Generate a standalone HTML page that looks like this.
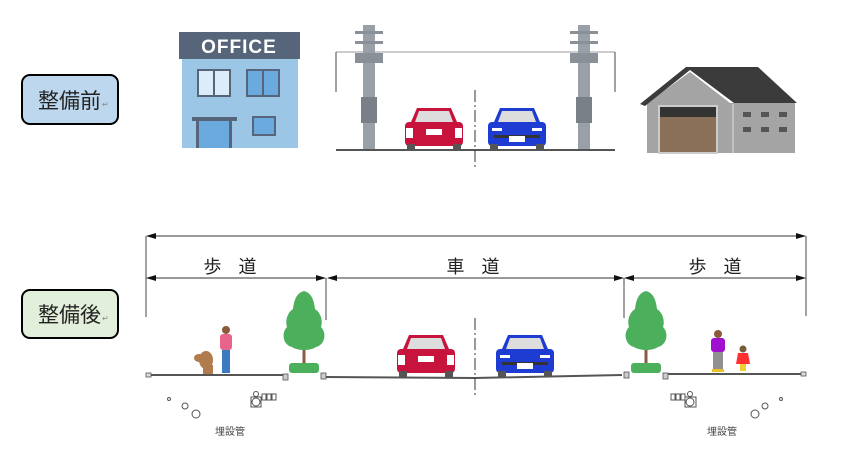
<!DOCTYPE html>
<html><head><meta charset="utf-8"><style>
html,body{margin:0;padding:0;background:#fff;}
svg{display:block;font-family:"Liberation Sans","Noto Sans CJK JP",sans-serif;}
</style></head><body>
<svg width="842" height="449" viewBox="0 0 842 449" xmlns="http://www.w3.org/2000/svg">
<defs>
<marker id="ar" markerWidth="10" markerHeight="6" refX="9" refY="3" orient="auto" markerUnits="userSpaceOnUse"><path d="M0,0 L10,3 L0,6z" fill="#111"/></marker>
<marker id="al" markerWidth="10" markerHeight="6" refX="1" refY="3" orient="auto" markerUnits="userSpaceOnUse"><path d="M10,0 L0,3 L10,6z" fill="#111"/></marker>
<g id="redcar">
<rect x="2" y="16" width="58" height="24" rx="4" fill="#c8143c"/>
<path d="M8,16 L14,2 L48,2 L54,16z" fill="#c8143c"/>
<path d="M12,16 L16,5 L46,5 L50,16z" fill="#ddd"/>
<rect x="3" y="22" width="7" height="10" fill="#fff"/><rect x="52" y="22" width="7" height="10" fill="#fff"/>
<rect x="23" y="23" width="16" height="6" fill="#fff"/>
<rect x="4" y="38" width="8" height="6" fill="#555"/><rect x="50" y="38" width="8" height="6" fill="#555"/>
</g>
<g id="bluecar">
<rect x="2" y="16" width="58" height="24" rx="4" fill="#1e3cd2"/>
<path d="M8,16 L14,2 L48,2 L54,16z" fill="#1e3cd2"/>
<path d="M12,16 L16,5 L46,5 L50,16z" fill="#ddd"/>
<rect x="6" y="22" width="10" height="3" fill="#fff"/><rect x="46" y="22" width="10" height="3" fill="#fff"/>
<rect x="8" y="29" width="46" height="3" fill="#333"/>
<rect x="23" y="30" width="16" height="6" fill="#fff"/>
<rect x="4" y="38" width="8" height="6" fill="#555"/><rect x="50" y="38" width="8" height="6" fill="#555"/>
</g>
<g id="tree">
<rect x="-1.5" y="45" width="3" height="30" fill="#8a5a44"/>
<path d="M0,0 C8,2 10,10 11,18 C17,22 19,30 17,36 C23,42 21,54 12,56 C6,60 -6,60 -12,56 C-21,54 -23,42 -17,36 C-19,30 -17,22 -11,18 C-10,10 -8,2 0,0z" fill="#4caf5c"/>
<rect x="-15" y="72" width="30" height="10" rx="3" fill="#4caf5c"/>
</g>
<g id="pole">
<rect x="-6" y="0" width="12" height="125" fill="#9aa0a8"/>
<rect x="-14" y="6" width="28" height="3" fill="#8a9098"/><rect x="-14" y="16" width="28" height="3" fill="#8a9098"/>
<rect x="-14" y="28" width="28" height="10" fill="#8a9098"/>
<rect x="-8" y="72" width="16" height="26" fill="#7a8088"/>
</g>
</defs>

<rect x="22" y="75" width="96" height="49" rx="8" fill="#bdd7ee" stroke="#000" stroke-width="2"/>
<text x="38" y="108" font-size="21" fill="#222">整備前</text><text x="102" y="107" font-size="8" fill="#888">↵</text>

<rect x="182" y="58" width="116" height="90" fill="#9cc6e6"/>
<rect x="179" y="32" width="121" height="27" fill="#56657a"/>
<text x="239" y="53" font-size="19" font-weight="bold" fill="#fff" text-anchor="middle" letter-spacing="1">OFFICE</text>
<rect x="198" y="70" width="32" height="26" fill="#dcecf8" stroke="#56657a" stroke-width="2"/><line x1="214" y1="70" x2="214" y2="96" stroke="#56657a" stroke-width="2"/>
<rect x="247" y="70" width="32" height="26" fill="#6aaade" stroke="#56657a" stroke-width="2"/><line x1="263" y1="70" x2="263" y2="96" stroke="#56657a" stroke-width="2"/>
<rect x="192" y="117" width="45" height="4" fill="#56657a"/>
<rect x="196" y="121" width="36" height="27" fill="#6aaade"/>
<rect x="196" y="121" width="3" height="27" fill="#56657a"/><rect x="229" y="121" width="3" height="27" fill="#56657a"/>
<rect x="253" y="117" width="22" height="18" fill="#6aaade" stroke="#56657a" stroke-width="2"/>

<line x1="336" y1="52" x2="615" y2="52" stroke="#999" stroke-width="1"/>
<line x1="336" y1="52" x2="336" y2="92" stroke="#444"/><line x1="615" y1="52" x2="615" y2="92" stroke="#444"/>
<use href="#pole" x="369" y="25"/>
<use href="#pole" x="584" y="25"/>
<line x1="336" y1="150" x2="615" y2="150" stroke="#555" stroke-width="2"/>
<line x1="475" y1="90" x2="475" y2="168" stroke="#333" stroke-dasharray="12,3,2,3"/>
<use href="#redcar" x="403" y="106"/>
<use href="#bluecar" x="486" y="106"/>

<rect x="647" y="103" width="148" height="50" fill="#a4a4a4"/>
<path d="M647,103 L690,72 L730,103z" fill="#a4a4a4"/>
<path d="M640,104 L686,67 L758,67 L797,103 L734,103 L690,70 L645,106z" fill="#3b3b3b"/>
<rect x="659" y="106" width="58" height="47" fill="#8a7058" stroke="#ccc" stroke-width="2"/>
<rect x="660" y="107" width="56" height="10" fill="#333"/>
<line x1="733" y1="104" x2="733" y2="153" stroke="#ccc" stroke-width="1.5"/>
<g fill="#555"><rect x="743" y="112" width="8" height="5"/><rect x="761" y="112" width="8" height="5"/><rect x="779" y="112" width="8" height="5"/><rect x="743" y="127" width="8" height="5"/><rect x="761" y="127" width="8" height="5"/><rect x="779" y="127" width="8" height="5"/></g>

<rect x="22" y="290" width="96" height="48" rx="8" fill="#e2efda" stroke="#000" stroke-width="2"/>
<text x="38" y="322" font-size="21" fill="#222">整備後</text><text x="102" y="321" font-size="8" fill="#888">↵</text>

<line x1="147" y1="236" x2="805" y2="236" stroke="#333" marker-start="url(#al)" marker-end="url(#ar)"/>
<line x1="146" y1="236" x2="146" y2="317" stroke="#444"/><line x1="806" y1="236" x2="806" y2="316" stroke="#444"/>
<line x1="147" y1="278" x2="325" y2="278" stroke="#333" marker-start="url(#al)" marker-end="url(#ar)"/>
<line x1="328" y1="278" x2="623" y2="278" stroke="#333" marker-start="url(#al)" marker-end="url(#ar)"/>
<line x1="625" y1="278" x2="805" y2="278" stroke="#333" marker-start="url(#al)" marker-end="url(#ar)"/>
<line x1="326" y1="278" x2="326" y2="320" stroke="#444"/><line x1="624" y1="278" x2="624" y2="318" stroke="#444"/>
<text x="233" y="273" font-size="18" fill="#222" text-anchor="middle" letter-spacing="6">歩 道</text>
<text x="476" y="273" font-size="18" fill="#222" text-anchor="middle" letter-spacing="6">車 道</text>
<text x="718" y="273" font-size="18" fill="#222" text-anchor="middle" letter-spacing="6">歩 道</text>

<path d="M146,375 L287,375 M326,377 L475,378 L622,375 M664,374 L806,374" stroke="#555" stroke-width="2" fill="none"/>
<rect x="146" y="373" width="5" height="4" fill="#ddd" stroke="#555" stroke-width="0.8"/>
<rect x="801" y="372" width="5" height="4" fill="#ddd" stroke="#555" stroke-width="0.8"/>
<rect x="283" y="374" width="5" height="6" fill="#ccc" stroke="#555" stroke-width="0.8"/>
<rect x="321" y="373" width="5" height="6" fill="#ccc" stroke="#555" stroke-width="0.8"/>
<rect x="624" y="372" width="5" height="6" fill="#ccc" stroke="#555" stroke-width="0.8"/>
<rect x="663" y="373" width="5" height="6" fill="#ccc" stroke="#555" stroke-width="0.8"/>
<line x1="475" y1="318" x2="475" y2="396" stroke="#333" stroke-dasharray="12,3,2,3"/>
<use href="#redcar" x="395" y="333"/>
<use href="#bluecar" x="494" y="333"/>
<use href="#tree" x="304" y="291"/>
<use href="#tree" x="646" y="291"/>

<ellipse cx="206" cy="360" rx="7" ry="9" fill="#b07c4e"/><ellipse cx="199" cy="358" rx="5" ry="4" fill="#b07c4e"/>
<rect x="203" y="365" width="10" height="9" fill="#b07c4e"/>
<circle cx="226" cy="330" r="4" fill="#8a5a3a"/>
<rect x="220" y="334" width="12" height="16" rx="3" fill="#e8648a"/>
<rect x="222" y="350" width="8" height="23" fill="#3a7ac0"/>
<circle cx="718" cy="334" r="4" fill="#8a5a3a"/>
<rect x="711" y="338" width="14" height="14" rx="3" fill="#a010d0"/>
<rect x="713" y="352" width="10" height="17" fill="#909090"/>
<rect x="712" y="369" width="12" height="3" fill="#e8c030"/>
<circle cx="743" cy="349" r="3.5" fill="#7a5a3a"/>
<path d="M738,353 L748,353 L750,364 L736,364z" fill="#ff3030"/>
<rect x="740" y="364" width="6" height="7" fill="#f0d030"/>

<g fill="none" stroke="#555" stroke-width="1">
<circle cx="169" cy="399" r="1.5"/><circle cx="185" cy="406" r="3"/><circle cx="196" cy="414" r="4"/>
<rect x="251" y="397" width="10" height="10"/><circle cx="256" cy="402" r="4"/>
<circle cx="256" cy="394" r="2.5"/><rect x="262" y="394" width="4" height="6"/><rect x="267" y="394" width="4" height="6"/><rect x="272" y="394" width="4" height="6"/>
<rect x="671" y="394" width="4" height="6"/><rect x="676" y="394" width="4" height="6"/><rect x="681" y="394" width="4" height="6"/><circle cx="690" cy="394" r="2.5"/>
<rect x="685" y="397" width="11" height="10"/><circle cx="690" cy="402" r="4"/>
<circle cx="781" cy="399" r="1.5"/><circle cx="765" cy="406" r="3"/><circle cx="755" cy="414" r="4"/>
</g>
<text x="230" y="435" font-size="10" fill="#444" text-anchor="middle">埋設管</text>
<text x="722" y="435" font-size="10" fill="#444" text-anchor="middle">埋設管</text>
</svg>
</body></html>
